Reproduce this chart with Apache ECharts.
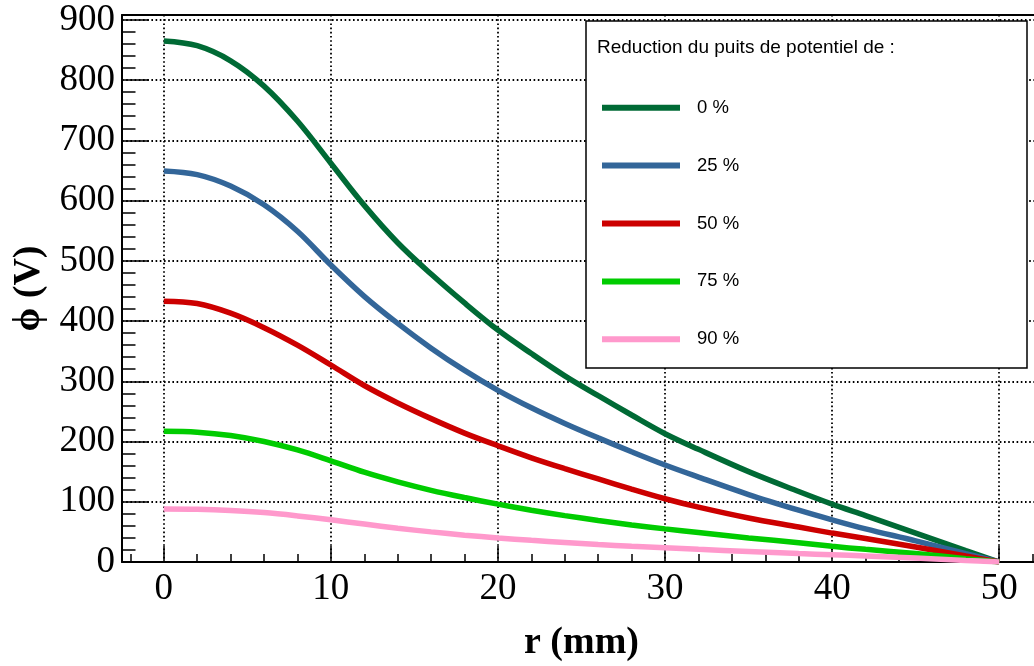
<!DOCTYPE html>
<html>
<head>
<meta charset="utf-8">
<script src="https://cdn.jsdelivr.net/npm/echarts@6/dist/echarts.min.js"></script>
<style>html,body{margin:0;padding:0;background:#fff;}#c{width:1034px;height:666px;}</style>
</head>
<body>
<div id="c"></div>
<script>
const radius = [0, 2, 4, 6, 8, 10, 12, 14, 16, 18, 20, 22, 24, 26, 28, 30, 32, 35, 38, 40, 42, 45, 48, 50];
const red0  = [865, 857, 832, 790, 732, 662, 592, 530, 478, 430, 385, 346, 309, 276, 244, 213, 187, 150, 117, 96, 77, 48, 19, 0];
const red25 = [649, 643, 624, 593, 549, 493, 441, 396, 355, 318, 285, 256, 230, 206, 183, 161, 141, 112, 86, 70, 55, 35, 14, 0];
const red50 = [433, 429, 413, 389, 360, 327, 293, 264, 238, 214, 193, 173, 155, 138, 121, 105, 91, 73, 58, 48, 39, 25, 10, 0];
const red75 = [217, 215.5, 210, 200, 186, 168, 149, 133, 119, 107, 96, 86, 77, 69, 61.5, 55, 49, 40, 32, 26, 21, 14, 5.5, 0];
const red90 = [88, 87.5, 85.5, 82, 76.5, 70, 63, 56, 50, 44.5, 40, 36, 32.5, 29, 26, 23.5, 21, 17.5, 14, 12, 10, 6.5, 2.5, 0];
const seriesNames = ['0 %', '25 %', '50 %', '75 %', '90 %'];
const seriesValues = [red0, red25, red50, red75, red90];
const colors = ['#006a35', '#336699', '#cc0000', '#00cc00', '#ff99cc'];
const legendTitle = 'Reduction du puits de potentiel de :';
const xTitle = 'r (mm)';
const yTitle = 'ϕ (V)';

const serif = "'Liberation Serif', 'Times New Roman', serif";
const sans = "'Liberation Sans', Arial, sans-serif";

const chart = echarts.init(document.getElementById('c'), null, {renderer: 'canvas'});
const gridLine = {show: true, lineStyle: {color: '#000', width: 1.8, type: [1.6, 2.6]}};

chart.setOption({
  animation: false,
  backgroundColor: '#fff',
  grid: {left: 122, top: 15, width: 919, height: 547, containLabel: false, outerBoundsMode: 'none'},
  xAxis: [{
    type: 'value', min: -2.5, max: 52.5, splitNumber: 5,
    axisLine: {show: true, onZero: false, lineStyle: {color: '#000', width: 2}},
    axisTick: {show: true, inside: true, length: 16, lineStyle: {color: '#000', width: 1.5}},
    minorTick: {show: true, splitNumber: 5, length: 8, lineStyle: {color: '#000', width: 1.5}},
    splitLine: gridLine,
    axisLabel: {
      color: '#000', fontFamily: serif, fontSize: 37, margin: 9,
      formatter: v => (Math.abs(v - Math.round(v / 10) * 10) < 1e-6 ? String(v) : '')
    },
    name: xTitle, nameLocation: 'middle', nameGap: 62,
    nameTextStyle: {color: '#000', fontFamily: serif, fontWeight: 'bold', fontSize: 38}
  }, {
    type: 'value', position: 'top', min: -2.5, max: 52.5,
    axisLine: {show: true, onZero: false, lineStyle: {color: '#000', width: 2}},
    axisTick: {show: false}, axisLabel: {show: false}, splitLine: {show: false}
  }],
  yAxis: {
    type: 'value', min: 0, max: 908, splitNumber: 9,
    axisLine: {show: true, onZero: false, lineStyle: {color: '#000', width: 2}},
    axisTick: {show: true, inside: true, length: 27, lineStyle: {color: '#000', width: 1.5}},
    minorTick: {show: true, splitNumber: 5, length: 13.5, lineStyle: {color: '#000', width: 1.5}},
    splitLine: gridLine,
    axisLabel: {
      color: '#000', fontFamily: serif, fontSize: 37, margin: 7,
      formatter: v => (v % 100 === 0 ? String(v) : '')
    },
    name: yTitle, nameLocation: 'middle', nameGap: 74, nameRotate: 90,
    nameTextStyle: {color: '#000', fontFamily: serif, fontWeight: 'bold', fontSize: 38}
  },
  legend: {
    orient: 'vertical', left: 597, top: 92.7, icon: 'rect',
    itemWidth: 78, itemHeight: 6, itemGap: 37.9, z: 6,
    textStyle: {color: '#000', fontFamily: sans, fontSize: 18.5, lineHeight: 20, padding: [0, 0, 0, 12]},
    data: seriesNames
  },
  graphic: [
    {type: 'rect', z: 5, shape: {x: 586, y: 21, width: 441, height: 347},
     style: {fill: '#fff', stroke: '#000', lineWidth: 1.5}},
    {type: 'text', z: 6, x: 597, y: 48,
     style: {text: legendTitle, fill: '#000', font: '19px ' + sans, verticalAlign: 'middle', align: 'left'}}
  ],
  series: seriesNames.map((n, i) => ({
    name: n, type: 'line', xAxisIndex: 0,
    data: radius.map((r, j) => [r, seriesValues[i][j]]),
    smooth: 0.35, showSymbol: false, symbol: 'none',
    lineStyle: {color: colors[i], width: 5.5},
    itemStyle: {color: colors[i]}, z: 2 + i * 0.01
  }))
});
</script>
</body>
</html>
